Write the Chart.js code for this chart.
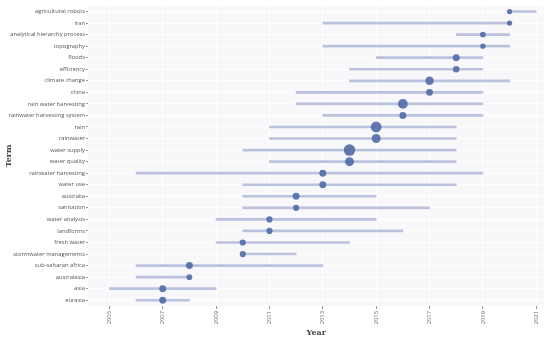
<!DOCTYPE html>
<html>
<head>
<meta charset="utf-8">
<script src="https://cdn.jsdelivr.net/npm/chart.js@4.4.0/dist/chart.umd.min.js"></script>
<style>
  html, body { margin: 0; padding: 0; background: #fff; }
  #wrap { width: 550px; height: 340px; }
</style>
</head>
<body>
<div id="wrap"><canvas id="chart"></canvas></div>
<script>
const terms = [
  "agricultural robots", "iran", "analytical hierarchy process", "topography", "floods",
  "efficiency", "climate change", "china", "rain water harvesting", "rainwater harvesting system",
  "rain", "rainwater", "water supply", "water quality", "rainwater harvesting",
  "water use", "australia", "sanitation", "water analysis", "landforms",
  "fresh water", "stormwater managements", "sub-saharan africa", "australasia", "asia", "eurasia",
];
const yearQ1 = [2020, 2013, 2018, 2013, 2015, 2014, 2014, 2012, 2012, 2013, 2011, 2011, 2010, 2011, 2006, 2010, 2010, 2010, 2009, 2010, 2009, 2010, 2006, 2006, 2005, 2006];
const yearMedian = [2020, 2020, 2019, 2019, 2018, 2018, 2017, 2017, 2016, 2016, 2015, 2015, 2014, 2014, 2013, 2013, 2012, 2012, 2011, 2011, 2010, 2010, 2008, 2008, 2007, 2007];
const yearQ3 = [2021, 2020, 2020, 2020, 2019, 2019, 2020, 2019, 2019, 2019, 2018, 2018, 2018, 2018, 2019, 2018, 2015, 2017, 2015, 2016, 2014, 2012, 2013, 2008, 2009, 2008];
const freq = [2, 2, 3, 2, 6, 5, 12, 6, 18, 6, 24, 14, 28, 14, 6, 6, 6, 4, 4, 4, 4, 4, 6, 3, 6, 6];
const yearTicks = [2005, 2007, 2009, 2011, 2013, 2015, 2017, 2019, 2021];

const plotBg = {
  id: "plotBg",
  beforeDraw(chart) {
    const a = chart.chartArea;
    chart.ctx.save();
    chart.ctx.fillStyle = "#f8f8fa";
    chart.ctx.fillRect(a.left, a.top, a.right - a.left, a.bottom - a.top);
    chart.ctx.restore();
  },
};

const tickFont = { family: "'Open Sans'", size: 5.8 };

new Chart(document.getElementById("chart"), {
  type: "bar",
  data: {
    labels: terms,
    datasets: [
      {
        type: "bubble",
        data: terms.map((t, i) => ({ x: yearMedian[i], y: t, r: 1.5 + Math.sqrt(freq[i]) * 0.8 })),
        backgroundColor: "rgba(84, 110, 168, 0.92)",
        borderWidth: 0,
      },
      {
        type: "bar",
        indexAxis: "y",
        data: terms.map((t, i) => [yearQ1[i], yearQ3[i]]),
        backgroundColor: "#bcc1dd",
        barThickness: 2,
        borderWidth: 0,
      },
    ],
  },
  options: {
    responsive: true,
    maintainAspectRatio: false,
    animation: false,
    layout: { padding: { top: 1, right: 2 } },
    plugins: { legend: { display: false }, tooltip: { enabled: false } },
    scales: {
      x: {
        type: "linear",
        offset: false,
        min: 2004.2,
        max: 2021.3,
        afterBuildTicks: (scale) => { scale.ticks = yearTicks.map((v) => ({ value: v })); },
        afterFit: (scale) => { scale.height = 34; },
        grid: { color: "#ffffff", lineWidth: 1, tickLength: 3, tickColor: "#999", offset: false },
        border: { display: false },
        ticks: {
          font: tickFont,
          color: "#666",
          minRotation: 90,
          maxRotation: 90,
          padding: 2,
          callback: (v) => String(v),
        },
        title: {
          display: true,
          text: "Year",
          font: { family: "'DejaVu Serif'", size: 8, weight: "bold" },
          color: "#444",
          padding: { top: 0, bottom: 2 },
        },
      },
      y: {
        type: "category",
        labels: terms,
        offset: true,
        afterFit: (scale) => { scale.width = 88; },
        grid: { color: "#ffffff", lineWidth: 1, tickLength: 2, tickColor: "#999", offset: false },
        border: { display: false },
        ticks: { font: tickFont, color: "#555", padding: 1, autoSkip: false },
        title: {
          display: true,
          text: "Term",
          font: { family: "'DejaVu Serif'", size: 8, weight: "bold" },
          color: "#444",
          padding: { top: 4, bottom: 0 },
        },
      },
    },
  },
  plugins: [plotBg],
});
</script>
</body>
</html>
